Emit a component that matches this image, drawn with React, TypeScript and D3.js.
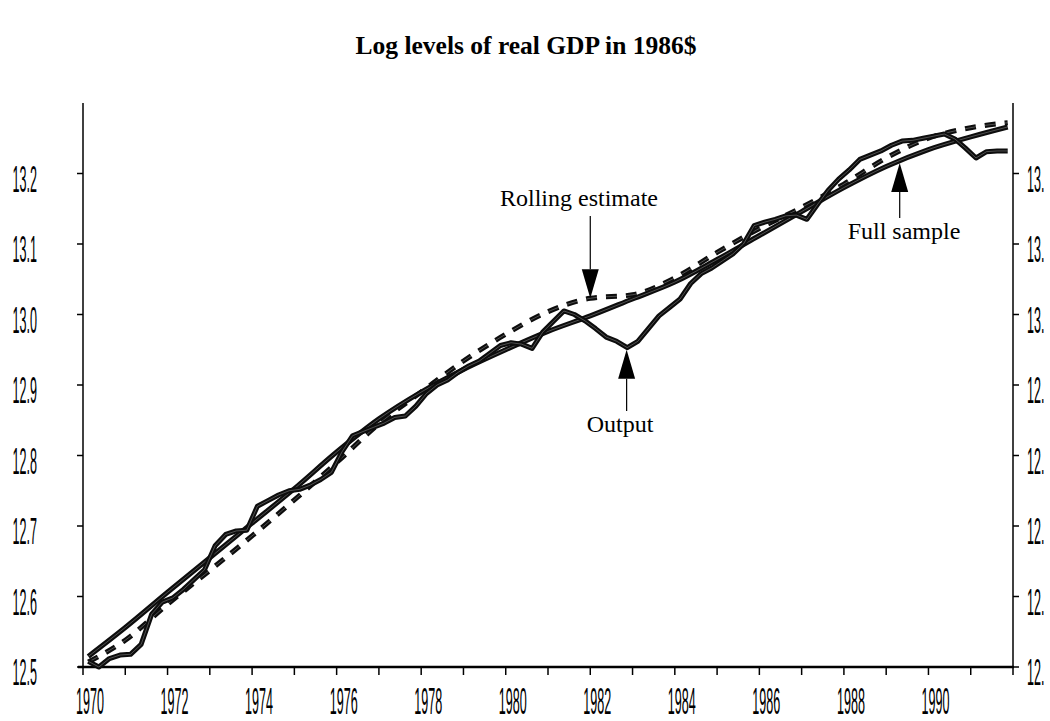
import React, { useRef, useEffect } from 'react';
import * as d3 from 'd3';

// quarterly output, 1970Q1..1991Q4
const outputStart = 1970.125;
const outputValues = [
  12.508, 12.500, 12.512, 12.517, 12.518, 12.532, 12.575, 12.592,
  12.598, 12.610, 12.624, 12.638, 12.672, 12.688, 12.693, 12.694,
  12.728, 12.736, 12.744, 12.750, 12.752, 12.758, 12.766, 12.776,
  12.805, 12.828, 12.834, 12.840, 12.846, 12.854, 12.856, 12.870,
  12.888, 12.900, 12.907, 12.918, 12.927, 12.934, 12.945, 12.956,
  12.960, 12.958, 12.952, 12.975, 12.990, 13.005, 13.000, 12.991,
  12.980, 12.968, 12.962, 12.953, 12.962, 12.980, 12.998, 13.010,
  13.022, 13.044, 13.058, 13.066, 13.076, 13.086, 13.100, 13.126,
  13.131, 13.135, 13.140, 13.141, 13.135, 13.156, 13.176, 13.192,
  13.205, 13.220, 13.226, 13.232, 13.240, 13.246, 13.247, 13.250,
  13.253, 13.256, 13.249, 13.236, 13.222, 13.231, 13.232, 13.232,
];

// trend estimates read at yearly knots
const trendYears = [
  1970.125, 1971, 1972, 1973, 1974, 1975, 1976, 1977, 1978, 1979, 1980, 1981,
  1982, 1983, 1984, 1985, 1986, 1987, 1988, 1989, 1990, 1991, 1991.875,
];
const fullSample = [
  12.515, 12.556, 12.606, 12.655, 12.704, 12.753, 12.805, 12.852, 12.890, 12.922, 12.950, 12.976,
  12.998, 13.022, 13.046, 13.078, 13.112, 13.146, 13.180, 13.210, 13.234, 13.252, 13.266,
];
const rolling = [
  12.507, 12.538, 12.589, 12.637, 12.686, 12.737, 12.790, 12.845, 12.890, 12.934, 12.972, 13.004,
  13.023, 13.028, 13.052, 13.088, 13.122, 13.152, 13.185, 13.222, 13.250, 13.265, 13.272,
];

const yTicks = [12.5, 12.6, 12.7, 12.8, 12.9, 13.0, 13.1, 13.2];
const xTicks = d3.range(1970, 1993);
const xLabels = [1970, 1972, 1974, 1976, 1978, 1980, 1982, 1984, 1986, 1988, 1990];

const title = 'Log levels of real GDP in 1986$';
const notes = [
  { text: 'Rolling estimate', year: 1982.0, value: 13.023, dir: 'down', tx: 579, ty: 206 },
  { text: 'Output', year: 1982.86, value: 12.95, dir: 'up', tx: 620, ty: 432 },
  { text: 'Full sample', year: 1989.32, value: 13.215, dir: 'up', tx: 904, ty: 239 },
];

const W = 1050, H = 721;

export default function App() {
  const ref = useRef<SVGSVGElement>(null);

  useEffect(() => {
    const svg = d3.select(ref.current);
    svg.selectAll('*').remove();

    const x = d3.scaleLinear().domain([1970, 1992]).range([83, 1013]);
    const y = d3.scaleLinear().domain([12.5, 13.3]).range([667, 103]);

    svg.append('rect').attr('width', W).attr('height', H).attr('fill', '#fff');

    svg.append('text')
      .attr('x', 526).attr('y', 54)
      .attr('text-anchor', 'middle')
      .attr('font-family', '"Liberation Serif", "Times New Roman", serif')
      .attr('font-weight', 'bold')
      .attr('font-size', 25.5)
      .text(title);

    // axes
    const ax = svg.append('g').attr('stroke', '#000');
    ax.append('line').attr('x1', 83).attr('x2', 83).attr('y1', 103).attr('y2', 667).attr('stroke-width', 1.5);
    ax.append('line').attr('x1', 1013).attr('x2', 1013).attr('y1', 103).attr('y2', 667).attr('stroke-width', 1.5);
    ax.append('line').attr('x1', 78).attr('x2', 1014).attr('y1', y(12.5)).attr('y2', y(12.5)).attr('stroke-width', 2.5);

    xTicks.forEach(t => {
      ax.append('line').attr('x1', x(t)).attr('x2', x(t)).attr('y1', 667).attr('y2', 675).attr('stroke-width', 1.5);
    });
    yTicks.forEach(v => {
      ax.append('line').attr('x1', 77).attr('x2', 83).attr('y1', y(v)).attr('y2', y(v)).attr('stroke-width', 1.5);
      ax.append('line').attr('x1', 1013).attr('x2', 1019).attr('y1', y(v)).attr('y2', y(v)).attr('stroke-width', 1.5);
    });

    // condensed tick labels: squeeze horizontally
    const sx = 0.34;
    const lab = svg.append('g')
      .attr('font-family', '"Liberation Sans", Arial, sans-serif')
      .attr('font-size', 37).attr('fill', '#000');
    yTicks.forEach(v => {
      lab.append('text')
        .attr('transform', `translate(37,${y(v) + 18}) scale(${sx},1)`)
        .attr('text-anchor', 'end')
        .text(v.toFixed(1));
      // right-hand labels are cut short in the original
      lab.append('text')
        .attr('transform', `translate(1027,${y(v) + 18}) scale(${sx},1)`)
        .text(v.toFixed(1).slice(0, 3));
    });
    xLabels.forEach(t => {
      lab.append('text')
        .attr('transform', `translate(${x(t) + 7},714) scale(${sx},1)`)
        .attr('text-anchor', 'middle')
        .text(String(t));
    });

    // series
    const line = d3.line<[number, number]>()
      .x(d => x(d[0])).y(d => y(d[1]));
    const smooth = d3.line<[number, number]>()
      .x(d => x(d[0])).y(d => y(d[1])).curve(d3.curveMonotoneX);

    const outPts: [number, number][] = outputValues.map((v, i) => [outputStart + i * 0.25, v]);
    const fullPts: [number, number][] = trendYears.map((t, i) => [t, fullSample[i]]);
    const rollPts: [number, number][] = trendYears.map((t, i) => [t, rolling[i]]);

    const g = svg.append('g').attr('fill', 'none').attr('stroke-linejoin', 'round');
    const drawLine = (d: string, dash: string | null) => {
      const p = g.append('path').attr('d', d).attr('stroke', '#0d0d0d').attr('stroke-width', 5);
      const q = g.append('path').attr('d', d).attr('stroke', '#fff').attr('stroke-width', 0.8).attr('opacity', 0.35);
      if (dash) { p.attr('stroke-dasharray', dash); q.attr('stroke-dasharray', dash); }
    };
    drawLine(smooth(rollPts)!, '11,9');
    drawLine(smooth(fullPts)!, null);
    drawLine(line(outPts)!, null);

    // annotations
    const ann = svg.append('g');
    notes.forEach(n => {
      const px = x(n.year), py = y(n.value);
      const s = n.dir === 'down' ? -1 : 1;
      const headLen = 29, headW = 8.5;
      const baseY = py + s * headLen;
      const endY = n.dir === 'down' ? n.ty + 10 : n.ty - 21;
      ann.append('line').attr('x1', px).attr('x2', px).attr('y1', baseY).attr('y2', endY)
        .attr('stroke', '#000').attr('stroke-width', 1.2);
      ann.append('path')
        .attr('d', `M${px},${py}L${px - headW},${baseY}L${px + headW},${baseY}Z`)
        .attr('fill', '#000');
      ann.append('text')
        .attr('x', n.tx).attr('y', n.ty)
        .attr('text-anchor', 'middle')
        .attr('font-family', '"Liberation Serif", "Times New Roman", serif')
        .attr('font-size', 24)
        .text(n.text);
    });
  }, []);

  return (
    <div style={{ position: 'absolute', left: 0, top: 0 }}>
      <svg ref={ref} width={W} height={H} style={{ display: 'block' }} />
    </div>
  );
}
